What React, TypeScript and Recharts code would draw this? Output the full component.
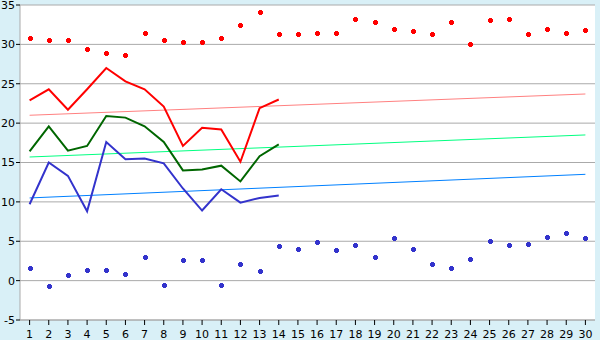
import React from "react";
import { ComposedChart, Line, XAxis, YAxis, CartesianGrid } from "recharts";

const days = ["1","2","3","4","5","6","7","8","9","10","11","12","13","14","15","16","17","18","19","20","21","22","23","24","25","26","27","28","29","30"];
const maxTemp = [22.9, 24.3, 21.7, 24.3, 27.0, 25.3, 24.3, 22.1, 17.1, 19.4, 19.2, 15.1, 21.9, 23.0];
const meanTemp = [16.4, 19.6, 16.5, 17.1, 20.9, 20.7, 19.6, 17.6, 14.0, 14.1, 14.6, 12.6, 15.8, 17.3];
const minTemp = [9.7, 15.0, 13.3, 8.8, 17.6, 15.4, 15.5, 14.9, 11.7, 8.9, 11.6, 9.9, 10.5, 10.8];
const recordHigh = [30.8, 30.6, 30.6, 29.4, 28.9, 28.6, 31.4, 30.6, 30.3, 30.3, 30.8, 32.4, 34.1, 31.3, 31.3, 31.4, 31.5, 33.2, 32.8, 32.0, 31.7, 31.3, 32.9, 30.1, 33.1, 33.2, 31.3, 31.9, 31.5, 31.8];
const recordLow = [1.6, -0.7, 0.7, 1.4, 1.4, 0.9, 3.0, -0.6, 2.6, 2.6, -0.6, 2.1, 1.2, 4.4, 4.0, 4.9, 3.9, 4.5, 3.0, 5.4, 4.0, 2.1, 1.6, 2.8, 5.0, 4.5, 4.6, 5.5, 6.1, 5.4];
const maxTrend = [21.0, 23.7];
const meanTrend = [15.7, 18.5];
const minTrend = [10.5, 13.5];
const yTicks = [-5, 0, 5, 10, 15, 20, 25, 30, 35];

const last = days.length - 1;
const data = days.map((d, i) => ({
  day: d,
  max: i < maxTemp.length ? maxTemp[i] : null,
  mean: i < meanTemp.length ? meanTemp[i] : null,
  min: i < minTemp.length ? minTemp[i] : null,
  hi: recordHigh[i],
  lo: recordLow[i],
  maxT: i === 0 ? maxTrend[0] : i === last ? maxTrend[1] : null,
  meanT: i === 0 ? meanTrend[0] : i === last ? meanTrend[1] : null,
  minT: i === 0 ? minTrend[0] : i === last ? minTrend[1] : null,
}));

const makeDot = (color: string) => (props: any) => {
  const { cx, cy, index } = props;
  if (cx == null || cy == null) return <g key={index} />;
  const x = Math.round(cx);
  const y = Math.round(cy);
  return (
    <g key={index} shapeRendering="crispEdges">
      <rect x={x - 1} y={y - 2} width={3} height={5} fill={color} />
      <rect x={x - 2} y={y - 1} width={5} height={3} fill={color} />
    </g>
  );
};

const tickStyle = { fontFamily: "DejaVu Sans", fontSize: 11, fill: "#000" };

export default function App() {
  return (
    <div style={{ position: "absolute", left: 0, top: 0, width: 600, height: 340, background: "#d9f0f7" }}>
      <ComposedChart width={600} height={340} data={data} margin={{ top: 5, right: 5, bottom: 0, left: 0 }}>
        <CartesianGrid vertical={false} stroke="#aaaaaa" fill="#ffffff" />
        <XAxis
          dataKey="day"
          height={20}
          tickSize={5}
          tickMargin={5}
          interval={0}
          padding={{ left: 9.6, right: 9.6 }}
          axisLine={{ stroke: "#aaaaaa" }}
          tickLine={{ stroke: "#000" }}
          tick={tickStyle}
        />
        <YAxis
          domain={[-5, 35]}
          ticks={yTicks}
          width={20}
          tickSize={4}
          tickMargin={1}
          interval={0}
          axisLine={{ stroke: "#aaaaaa" }}
          tickLine={{ stroke: "#000" }}
          tick={tickStyle}
          allowDataOverflow
        />
        <YAxis
          yAxisId="r"
          orientation="right"
          domain={[-5, 35]}
          width={0}
          tick={false}
          tickLine={false}
          axisLine={{ stroke: "#aaaaaa" }}
        />
        <Line dataKey="maxT" stroke="#ff8080" strokeWidth={1} dot={false} connectNulls isAnimationActive={false} />
        <Line dataKey="meanT" stroke="#00ff80" strokeWidth={1} dot={false} connectNulls isAnimationActive={false} />
        <Line dataKey="minT" stroke="#0080ff" strokeWidth={1} dot={false} connectNulls isAnimationActive={false} />
        <Line dataKey="hi" stroke="none" dot={makeDot("#ff0000")} activeDot={false} isAnimationActive={false} />
        <Line dataKey="lo" stroke="none" dot={makeDot("#3333cc")} activeDot={false} isAnimationActive={false} />
        <Line dataKey="min" stroke="#3333cc" strokeWidth={2} dot={false} isAnimationActive={false} />
        <Line dataKey="mean" stroke="#006600" strokeWidth={2} dot={false} isAnimationActive={false} />
        <Line dataKey="max" stroke="#ff0000" strokeWidth={2} dot={false} isAnimationActive={false} />
      </ComposedChart>
    </div>
  );
}
